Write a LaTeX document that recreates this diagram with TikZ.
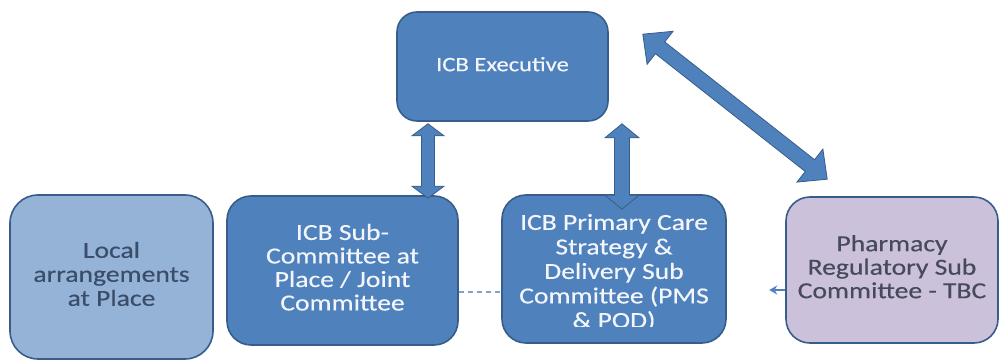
\documentclass[tikz,border=0pt]{standalone}
\usepackage{fontspec}
\usepackage{graphicx}
\setmainfont{Carlito}[FakeBold=0.35]
\usetikzlibrary{calc,arrows.meta}
\definecolor{boxblue}{HTML}{4F81BD}
\definecolor{boxline}{HTML}{385D8A}
\definecolor{lightblue}{HTML}{95B3D7}
\definecolor{lilac}{HTML}{CCC1DA}
\definecolor{localtext}{HTML}{3A4E6B}
\definecolor{lilactext}{HTML}{474A5C}
\definecolor{lighttext}{HTML}{F2F5FA}
\definecolor{dashblue}{HTML}{7FA1CB}
\newcommand\wtext[3]{\scalebox{1.2}[1]{\fontsize{#1}{#2}\selectfont\begin{tabular}{@{}c@{}}#3\end{tabular}}}
\newcommand\blockarrow[5]{%
  \path ($(#1)!#5!(#2)$) coordinate (ba1) ($(#2)!#5!(#1)$) coordinate (ba2);
  \filldraw[barrow] (#1) -- ($(ba1)!#4!90:(#2)$) -- ($(ba1)!#3!90:(#2)$)
    -- ($(ba2)!#3!-90:(#1)$) -- ($(ba2)!#4!-90:(#1)$) -- (#2)
    -- ($(ba2)!#4!90:(#1)$) -- ($(ba2)!#3!90:(#1)$)
    -- ($(ba1)!#3!-90:(#2)$) -- ($(ba1)!#4!-90:(#2)$) -- cycle;}
\tikzset{
  box/.style={draw=boxline, line width=1.6pt, rounded corners=24pt, fill=boxblue,
    text=lighttext, inner sep=0pt, align=center},
  lbox/.style={box, fill=lightblue, text=localtext},
  pbox/.style={box, fill=lilac, text=lilactext},
  barrow/.style={fill=boxblue, draw=boxline, line width=0.8pt, line join=miter},
  dashline/.style={draw=dashblue, line width=1.3pt, dash pattern=on 5pt off 4pt},
}
\begin{document}
\begin{tikzpicture}[x=1pt,y=1pt]
\useasboundingbox (0,0) rectangle (1002,361);
\node[box, rounded corners=20pt, minimum width=211pt, minimum height=109pt] (exec) at (502.5,294.5) {\wtext{20.5}{23.5}{ICB Executive}};
\node[lbox, rounded corners=28pt, minimum width=203pt, minimum height=164pt] (local) at (111.5,84) {\wtext{23}{24}{Local\\arrangements\\at Place}};
\node[box, minimum width=231pt, minimum height=149pt] (sub) at (342.5,90.5) {\wtext{23}{23.5}{ICB Sub-\\Committee at\\Place / Joint\\Committee}};
\node[box, minimum width=224pt, minimum height=148pt] (pc) at (614,92) {};
\begin{scope}
  \clip (pc.north west) rectangle ([yshift=17pt]pc.south east);
  \node[text=lighttext, inner sep=0pt] (pctext) at ([yshift=-5pt]pc.center) {\wtext{23}{24.5}{ICB Primary Care\\Strategy \&\\Delivery Sub\\Committee (PMS\\\& POD)}};
\end{scope}
\node[pbox, minimum width=212pt, minimum height=146pt] (ph) at (892,91) {\wtext{23}{23.5}{Pharmacy\\Regulatory Sub\\Committee - TBC}};
% block arrows
\coordinate (a1t) at ($(exec.south)+(-74.5,-2)$);
\coordinate (a1b) at ($(sub.north)+(85.5,-3)$);
\blockarrow{a1t}{a1b}{6.5pt}{16pt}{12pt}
\coordinate (a2t) at ($(exec.south)+(119.5,-2)$);
\coordinate (a2b) at ($(pc.north)+(8,-15)$);
\blockarrow{a2t}{a2b}{7.5pt}{17pt}{14pt}
\coordinate (a3t) at ($(exec.north east)+(34,-23)$);
\coordinate (a3b) at ($(ph.north west)+(42,17)$);
\blockarrow{a3t}{a3b}{7.5pt}{21pt}{22pt}
% dashed links
\draw[dashline] (sub.east |- 0,69) -- (pc.west |- 0,69);
\coordinate (phend) at ($(ph.west |- 0,71)+(-16,0)$);
\draw[draw=boxblue, line width=1.4pt, -{Stealth[length=8pt,width=9pt]}] (ph.west |- 0,71) -- (phend);
\end{tikzpicture}
\end{document}
